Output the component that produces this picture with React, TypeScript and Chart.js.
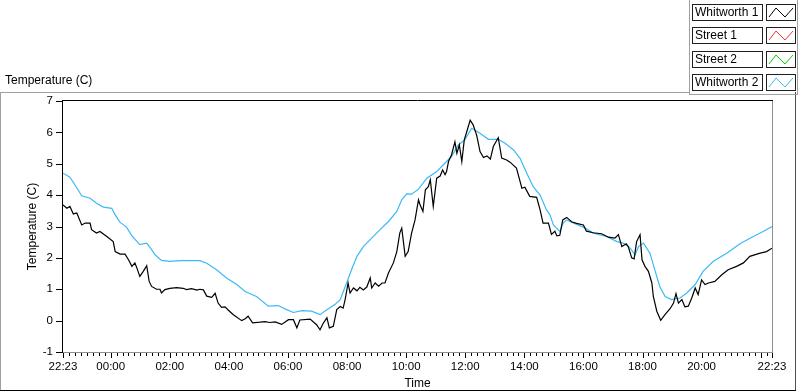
import React, { useEffect, useRef } from 'react';
import { Chart, registerables } from 'chart.js';

Chart.register(...registerables);

// ---------- data ----------
const startClock = '22:23';
const xTickTimes = ['22:23', '00:00', '02:00', '04:00', '06:00', '08:00', '10:00', '12:00', '14:00', '16:00', '18:00', '20:00', '22:00', '22:23'];
const hiddenTickTimes = ['22:00'];
const yTickValues = [-1, 0, 1, 2, 3, 4, 5, 6, 7];

const seriesNames = ['Whitworth 1', 'Street 1', 'Street 2', 'Whitworth 2'];
const seriesColors = ['#000000', '#FF3030', '#00D000', '#3DB9F5'];

// minutes since 22:23
const w1Minutes = [0, 8, 14, 21, 28, 31, 38, 45, 55, 58, 68, 75, 89, 102, 106, 116, 126, 133, 140, 146, 150, 156, 163, 170, 175, 180, 190, 197, 200, 207, 217, 231, 244, 251, 261, 272, 278, 285, 292, 302, 309, 315, 322, 329, 336, 346, 363, 370, 376, 385, 400, 410, 420, 431, 444, 458, 468, 475, 481, 502, 515, 522, 528, 536, 541, 549, 556, 563, 569, 573, 579, 583, 590, 597, 603, 610, 617, 624, 627, 634, 641, 648, 654, 661, 671, 678, 684, 688, 695, 701, 708, 715, 722, 725, 731, 736, 742, 746, 752, 759, 766, 771, 776, 779, 783, 789, 796, 800, 805, 810, 815, 820, 827, 833, 840, 847, 854, 861, 868, 874, 884, 891, 901, 908, 921, 932, 938, 948, 962, 969, 975, 986, 992, 999, 1003, 1009, 1015, 1023, 1033, 1043, 1057, 1063, 1077, 1094, 1108, 1121, 1128, 1135, 1144, 1148, 1155, 1160, 1165, 1172, 1176, 1182, 1189, 1196, 1199, 1206, 1214, 1223, 1233, 1240, 1245, 1250, 1257, 1263, 1270, 1277, 1284, 1290, 1297, 1304, 1311, 1324, 1338, 1351, 1368, 1382, 1395, 1416, 1429, 1440];
const w1Temps = [3.69, 3.58, 3.64, 3.40, 3.43, 3.32, 3.05, 3.11, 3.11, 2.90, 2.79, 2.84, 2.68, 2.52, 2.20, 2.12, 2.12, 1.94, 1.73, 1.84, 1.68, 1.41, 1.57, 1.75, 1.25, 1.09, 1.00, 1.00, 0.88, 0.99, 1.03, 1.05, 1.03, 0.99, 1.02, 0.97, 1.00, 0.98, 0.78, 0.74, 0.87, 0.56, 0.42, 0.44, 0.33, 0.19, 0.00, 0.06, 0.14, -0.07, -0.05, -0.03, -0.06, -0.04, -0.12, 0.03, 0.03, -0.23, 0.02, 0.05, -0.13, -0.29, -0.10, 0.09, -0.23, -0.18, 0.35, 0.45, 0.40, 0.67, 1.20, 0.88, 1.04, 0.95, 1.06, 0.98, 1.07, 1.36, 1.04, 1.20, 1.10, 1.20, 1.20, 1.52, 1.84, 2.20, 2.79, 2.95, 2.05, 2.20, 2.79, 3.21, 3.85, 3.70, 3.48, 4.17, 4.27, 4.49, 3.64, 4.54, 4.61, 4.80, 4.65, 4.75, 5.07, 5.28, 5.70, 5.33, 5.60, 5.07, 5.76, 6.02, 6.39, 6.24, 5.92, 5.39, 5.20, 5.25, 5.15, 5.55, 5.83, 5.18, 5.12, 5.05, 4.86, 4.22, 4.25, 3.96, 3.93, 3.53, 3.11, 3.11, 2.75, 2.85, 2.70, 2.72, 3.21, 3.29, 3.15, 3.10, 3.05, 2.85, 2.80, 2.77, 2.66, 2.63, 2.74, 2.36, 2.45, 2.36, 2.00, 1.97, 2.52, 2.74, 1.94, 1.73, 1.57, 1.20, 0.77, 0.30, 0.01, 0.20, 0.38, 0.56, 0.86, 0.56, 0.67, 0.44, 0.46, 0.72, 1.04, 0.83, 1.30, 1.15, 1.20, 1.25, 1.46, 1.62, 1.73, 1.84, 2.05, 2.15, 2.20, 2.31];

const s1Minutes: number[] = [];
const s1Temps: number[] = [];
const s2Minutes: number[] = [];
const s2Temps: number[] = [];

const w2Minutes = [0, 14, 24, 38, 55, 68, 82, 99, 106, 116, 129, 140, 156, 170, 180, 187, 200, 217, 238, 278, 292, 312, 332, 353, 370, 393, 417, 437, 454, 468, 485, 505, 522, 536, 552, 563, 576, 586, 597, 610, 624, 644, 661, 678, 688, 698, 708, 722, 739, 759, 772, 789, 803, 816, 830, 847, 864, 884, 898, 915, 928, 942, 955, 969, 982, 989, 996, 1009, 1016, 1023, 1036, 1057, 1077, 1104, 1125, 1138, 1152, 1162, 1169, 1179, 1192, 1202, 1212, 1223, 1236, 1253, 1267, 1284, 1300, 1321, 1348, 1375, 1402, 1422, 1440];
const w2Temps = [4.70, 4.57, 4.33, 3.98, 3.90, 3.74, 3.62, 3.58, 3.37, 3.13, 2.98, 2.70, 2.42, 2.47, 2.26, 2.10, 1.92, 1.89, 1.91, 1.91, 1.83, 1.62, 1.36, 1.15, 0.93, 0.77, 0.46, 0.48, 0.35, 0.26, 0.32, 0.30, 0.19, 0.35, 0.51, 0.67, 1.20, 1.62, 2.05, 2.36, 2.58, 2.90, 3.16, 3.48, 3.85, 4.04, 4.03, 4.19, 4.54, 4.75, 4.96, 5.23, 5.60, 5.76, 6.13, 5.97, 5.78, 5.78, 5.65, 5.44, 5.18, 4.70, 4.27, 4.00, 3.53, 3.37, 3.05, 2.84, 3.11, 3.21, 3.11, 2.98, 2.79, 2.68, 2.52, 2.47, 2.31, 2.10, 2.36, 2.47, 2.15, 1.62, 1.09, 0.77, 0.67, 0.72, 0.88, 1.15, 1.57, 1.89, 2.15, 2.45, 2.68, 2.84, 3.00];

// ---------- helpers ----------
const FONT = "'Liberation Sans', Arial, sans-serif";
const toMin = (s: string) => {
  const [h, m] = s.split(':').map(Number);
  return h * 60 + m;
};
const startMin = toMin(startClock);
const tickMinutes = xTickTimes.map((t, i) =>
  i === xTickTimes.length - 1 ? 1440 : (toMin(t) - startMin + 1440) % 1440
);
const labelFor = (v: number) => {
  const idx = tickMinutes.indexOf(v);
  if (idx < 0) return '';
  const t = xTickTimes[idx];
  return hiddenTickTimes.includes(t) ? '' : t;
};
const pts = (xs: number[], ys: number[]) => xs.map((x, i) => ({ x, y: ys[i] }));

const decorPlugin = {
  id: 'decor',
  beforeDraw(chart: any) {
    const { ctx, width, height } = chart;
    ctx.save();
    ctx.fillStyle = '#ffffff';
    ctx.fillRect(0, 0, width, height);
    ctx.restore();
  },
  afterDraw(chart: any) {
    const ctx: CanvasRenderingContext2D = chart.ctx;
    const ca = chart.chartArea;
    const L = Math.round(ca.left), R = Math.round(ca.right), T = Math.round(ca.top), B = Math.round(ca.bottom);
    const xs = chart.scales.x, ys = chart.scales.y;
    const line = (x1: number, y1: number, x2: number, y2: number, c: string) => {
      ctx.strokeStyle = c;
      ctx.beginPath();
      ctx.moveTo(x1, y1);
      ctx.lineTo(x2, y2);
      ctx.stroke();
    };
    ctx.save();
    ctx.lineWidth = 1;
    // outer graph frame
    line(0, 92.5, 690, 92.5, '#a0a0a0');
    line(0.5, 92, 0.5, 391, '#a0a0a0');
    line(795.5, 92, 795.5, 391, '#505050');
    line(0, 390.5, 796, 390.5, '#000000');
    // plot area border
    line(L - 1, T - 0.5, R + 1, T - 0.5, '#000000');
    line(L - 0.5, T - 1, L - 0.5, B + 1, '#000000');
    line(R + 0.5, T, R + 0.5, B + 1, '#909090');
    line(L, B + 0.5, R + 1, B + 0.5, '#909090');
    // y ticks
    yTickValues.forEach((v) => {
      const y = Math.round(ys.getPixelForValue(v)) + 0.5;
      line(L - 7, y, L - 1, y, '#000000');
    });
    // x ticks: minor every 12 clock minutes, major at tick times
    for (let m = 0; m <= 1440; m++) {
      if ((startMin + m) % 12 !== 0) continue;
      const x = Math.round(xs.getPixelForValue(m)) + 0.5;
      line(x, B + 1, x, B + 4, '#000000');
    }
    tickMinutes.forEach((m) => {
      const x = Math.round(xs.getPixelForValue(m)) + 0.5;
      line(x, B + 1, x, B + 6, '#000000');
    });
    // top-left label
    ctx.fillStyle = '#000000';
    ctx.font = `12px ${FONT}`;
    ctx.textAlign = 'left';
    ctx.textBaseline = 'middle';
    ctx.fillText('Temperature (C)', 5, 81);
    // legend frame
    line(689.5, 0, 689.5, 95, '#a0a0a0');
    line(689, 94.5, 798, 94.5, '#a0a0a0');
    line(797.5, 0, 797.5, 95, '#a0a0a0');
    // legend rows
    chart.data.datasets.forEach((ds: any, i: number) => {
      const top = Math.round(4 + i * 23.3);
      ctx.strokeStyle = '#202020';
      ctx.strokeRect(692.5, top + 0.5, 70, 16);
      ctx.strokeRect(766.5, top + 0.5, 29, 16);
      ctx.fillStyle = '#000000';
      ctx.fillText(ds.label, 695, top + 9);
      ctx.strokeStyle = ds.borderColor;
      ctx.beginPath();
      ctx.moveTo(769, top + 13);
      ctx.lineTo(776, top + 4);
      ctx.lineTo(785, top + 13);
      ctx.lineTo(793, top + 4);
      ctx.stroke();
    });
    ctx.restore();
  },
};

export default function App() {
  const ref = useRef<HTMLCanvasElement>(null);
  useEffect(() => {
    if (!ref.current) return;
    const series = [
      pts(w1Minutes, w1Temps),
      pts(s1Minutes, s1Temps),
      pts(s2Minutes, s2Temps),
      pts(w2Minutes, w2Temps),
    ];
    const chart = new Chart(ref.current, {
      type: 'line',
      data: {
        datasets: seriesNames.map((name, i) => ({
          label: name,
          data: series[i],
          borderColor: seriesColors[i],
          backgroundColor: seriesColors[i],
          borderWidth: 1.2,
          pointRadius: 0,
          tension: 0,
          fill: false,
        })),
      },
      options: {
        responsive: false,
        animation: false,
        devicePixelRatio: 1,
        layout: { padding: { left: 0, top: 101, right: 28, bottom: 0 } },
        plugins: { legend: { display: false }, tooltip: { enabled: false } },
        scales: {
          x: {
            type: 'linear',
            min: 0,
            max: 1440,
            grid: { display: false, drawTicks: false },
            border: { display: false },
            afterBuildTicks: (scale: any) => {
              scale.ticks = tickMinutes.map((v) => ({ value: v }));
            },
            afterFit: (scale: any) => {
              scale.height = 40;
            },
            ticks: {
              autoSkip: false,
              maxRotation: 0,
              padding: 8,
              color: '#000000',
              font: { family: FONT, size: 11.5 },
              callback: (v: any) => labelFor(Number(v)),
            },
            title: {
              display: true,
              text: 'Time',
              color: '#000000',
              font: { family: FONT, size: 12 },
              padding: { top: 0, bottom: 1 },
            },
          },
          y: {
            type: 'linear',
            min: -1,
            max: 7,
            grid: { display: false, drawTicks: false },
            border: { display: false },
            afterFit: (scale: any) => {
              scale.width = 63;
            },
            ticks: {
              stepSize: 1,
              padding: 10,
              color: '#000000',
              font: { family: FONT, size: 11.5 },
            },
            title: {
              display: true,
              text: 'Temperature (C)',
              color: '#000000',
              font: { family: FONT, size: 12 },
              padding: { top: 25, bottom: 0 },
            },
          },
        },
      },
      plugins: [decorPlugin],
    });
    return () => chart.destroy();
  }, []);
  return (
    <div style={{ position: 'fixed', left: 0, top: 0, width: 800, height: 392, background: '#fff' }}>
      <canvas ref={ref} width={800} height={392} style={{ display: 'block', width: 800, height: 392 }} />
    </div>
  );
}
